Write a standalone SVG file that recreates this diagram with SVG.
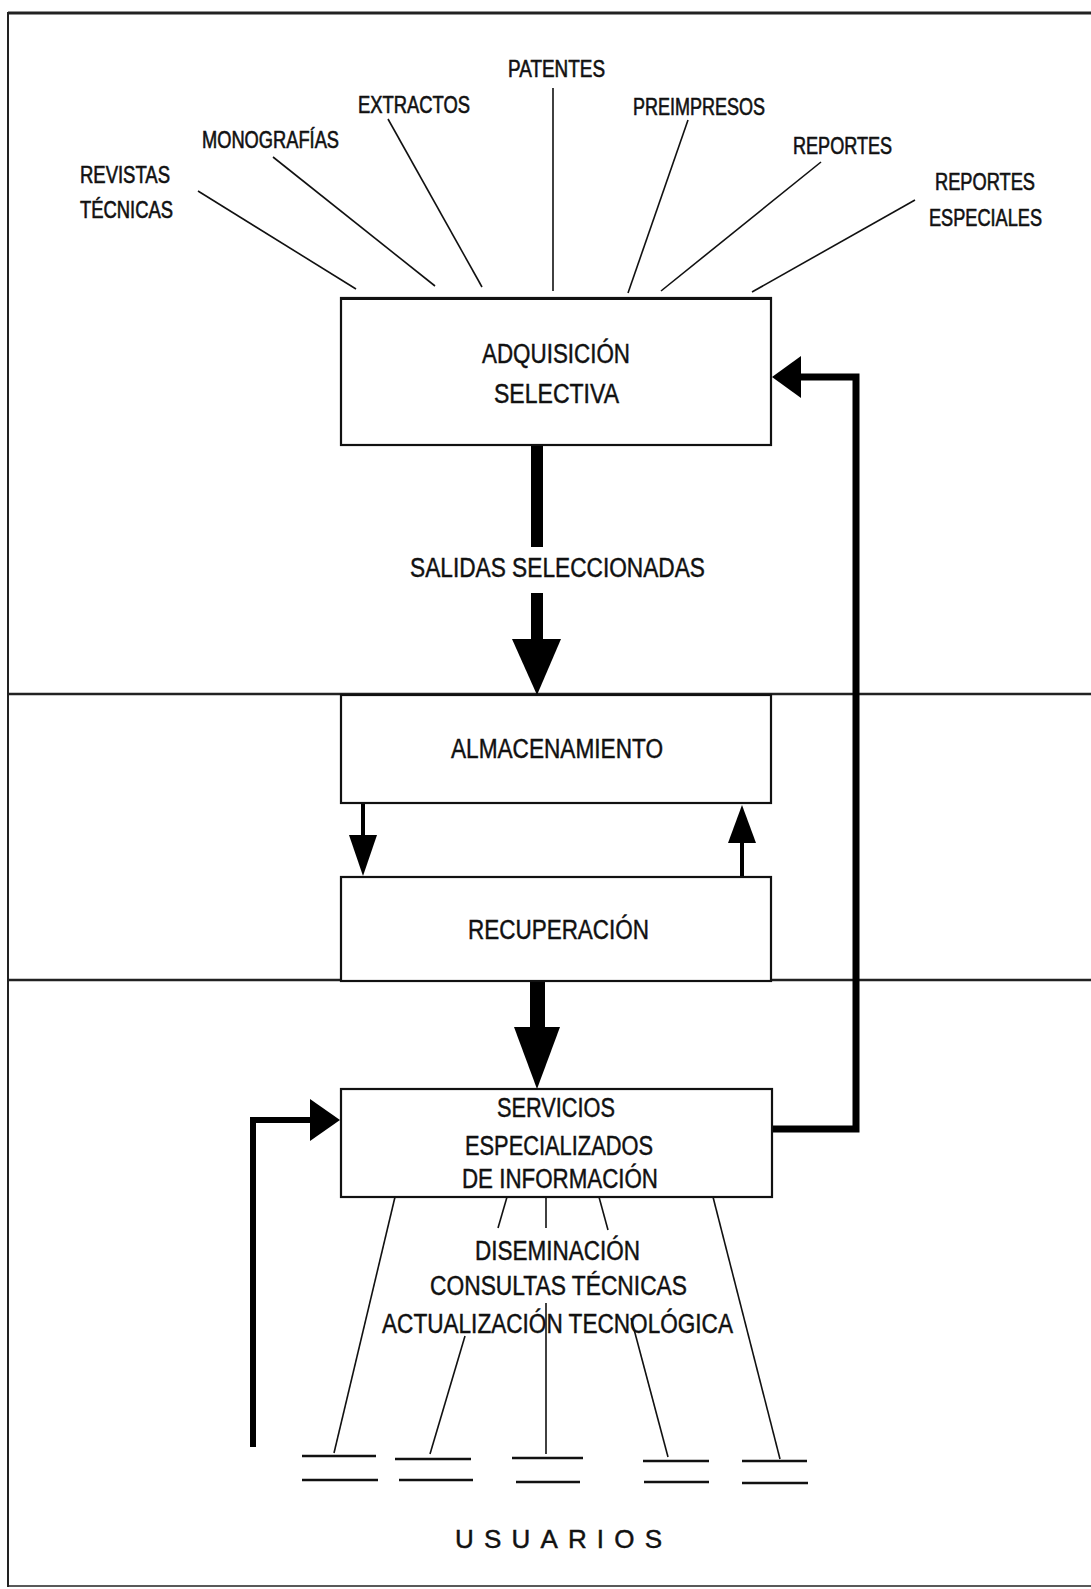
<svg xmlns="http://www.w3.org/2000/svg" width="1091" height="1589" viewBox="0 0 1091 1589">
<style>
text{font-family:"Liberation Sans","Arial",sans-serif;fill:#111;stroke:#111;stroke-width:0.45;}
.lbl{font-size:23px;stroke-width:0.6;}
.box{fill:#fff;stroke:#111;stroke-width:2.2;}
.bt{font-size:27px;}
.thin{stroke:#111;stroke-width:1.6;fill:none;}
.frame{stroke:#222;fill:none;}
.thick{stroke:#000;fill:none;stroke-linejoin:miter;}
.head{fill:#000;}
.bar{stroke:#111;stroke-width:2.5;}
</style>
<rect x="0" y="0" width="1091" height="1589" fill="#fff"/>
<g id="frame">
<line class="frame" x1="8" y1="13" x2="1091" y2="13" stroke-width="3"/>
<line class="frame" x1="8" y1="12" x2="8" y2="1587" stroke-width="2" stroke="#444"/>
<line class="frame" x1="8" y1="694" x2="1091" y2="694" stroke-width="2.5"/>
<line class="frame" x1="8" y1="980" x2="1091" y2="980" stroke-width="2.5"/>
<line class="frame" x1="8" y1="1586" x2="1091" y2="1586" stroke-width="1.5" stroke="#999"/>
</g>
<g id="connectors">
<line class="thin" x1="198" y1="191" x2="356" y2="289"/>
<line class="thin" x1="273" y1="157" x2="435" y2="286"/>
<line class="thin" x1="388" y1="119" x2="482" y2="287"/>
<line class="thin" x1="553" y1="88" x2="553" y2="291"/>
<line class="thin" x1="688" y1="120" x2="628" y2="293"/>
<line class="thin" x1="821" y1="162" x2="661" y2="291"/>
<line class="thin" x1="915" y1="200" x2="752" y2="292"/>
<rect class="head" x="531" y="445" width="12" height="102"/>
<rect class="head" x="531" y="593" width="12" height="47"/>
<polygon class="head" points="512,639 561,639 537,695"/>
<line class="thick" x1="363" y1="803" x2="363" y2="837" stroke-width="4"/>
<polygon class="head" points="349,835 377,835 363,876"/>
<line class="thick" x1="742" y1="877" x2="742" y2="841" stroke-width="4"/>
<polygon class="head" points="728,843 756,843 742,805"/>
<rect class="head" x="530" y="981" width="15" height="47"/>
<polygon class="head" points="514,1027 560,1027 537,1089"/>
<polyline class="thick" points="772,1129 856,1129 856,377 799,377" stroke-width="7"/>
<polygon class="head" points="801,356 801,398 772,377"/>
<polyline class="thick" points="253,1447 253,1120 312,1120" stroke-width="6"/>
<polygon class="head" points="310,1099 310,1141 340,1120"/>
<line class="thin" x1="395" y1="1197" x2="334" y2="1453"/>
<line class="thin" x1="507" y1="1197" x2="498" y2="1228"/>
<line class="thin" x1="465" y1="1336" x2="430" y2="1454"/>
<line class="thin" x1="546" y1="1197" x2="546" y2="1228"/>
<line class="thin" x1="546" y1="1303" x2="546" y2="1454"/>
<line class="thin" x1="599" y1="1197" x2="608" y2="1230"/>
<line class="thin" x1="631" y1="1318" x2="668" y2="1457"/>
<line class="thin" x1="713" y1="1197" x2="780" y2="1459"/>
</g>
<g id="fuentes">
<text class="lbl" x="508" y="77" textLength="97" lengthAdjust="spacingAndGlyphs">PATENTES</text>
<text class="lbl" x="358" y="113" textLength="112" lengthAdjust="spacingAndGlyphs">EXTRACTOS</text>
<text class="lbl" x="202" y="148" textLength="137" lengthAdjust="spacingAndGlyphs">MONOGRAFÍAS</text>
<text class="lbl" x="80" y="183" textLength="90" lengthAdjust="spacingAndGlyphs">REVISTAS</text>
<text class="lbl" x="80" y="218" textLength="93" lengthAdjust="spacingAndGlyphs">TÉCNICAS</text>
<text class="lbl" x="633" y="115" textLength="132" lengthAdjust="spacingAndGlyphs">PREIMPRESOS</text>
<text class="lbl" x="793" y="154" textLength="99" lengthAdjust="spacingAndGlyphs">REPORTES</text>
<text class="lbl" x="935" y="190" textLength="100" lengthAdjust="spacingAndGlyphs">REPORTES</text>
<text class="lbl" x="929" y="226" textLength="113" lengthAdjust="spacingAndGlyphs">ESPECIALES</text>
</g>
<g id="adquisicion">
<rect class="box" x="341" y="298" width="430" height="147"/>
<line x1="341" y1="298.5" x2="771" y2="298.5" stroke="#111" stroke-width="3"/>
<text class="bt" x="482" y="363" textLength="148" lengthAdjust="spacingAndGlyphs">ADQUISICIÓN</text>
<text class="bt" x="494" y="403" textLength="125" lengthAdjust="spacingAndGlyphs">SELECTIVA</text>
</g>
<g id="salidas">
<text class="bt" x="410" y="577" textLength="295" lengthAdjust="spacingAndGlyphs">SALIDAS SELECCIONADAS</text>
</g>
<g id="almacenamiento">
<rect class="box" x="341" y="695" width="430" height="108"/>
<text class="bt" x="451" y="758" textLength="212" lengthAdjust="spacingAndGlyphs">ALMACENAMIENTO</text>
</g>
<g id="recuperacion">
<rect class="box" x="341" y="877" width="430" height="104"/>
<text class="bt" x="468" y="939" textLength="181" lengthAdjust="spacingAndGlyphs">RECUPERACIÓN</text>
</g>
<g id="servicios">
<rect class="box" x="341" y="1089" width="431" height="108"/>
<text class="bt" x="497" y="1117" textLength="118" lengthAdjust="spacingAndGlyphs">SERVICIOS</text>
<text class="bt" x="465" y="1155" textLength="188" lengthAdjust="spacingAndGlyphs">ESPECIALIZADOS</text>
<text class="bt" x="462" y="1188" textLength="196" lengthAdjust="spacingAndGlyphs">DE INFORMACIÓN</text>
</g>
<g id="tipos">
<text class="bt" x="475" y="1260" textLength="165" lengthAdjust="spacingAndGlyphs">DISEMINACIÓN</text>
<text class="bt" x="430" y="1295" textLength="257" lengthAdjust="spacingAndGlyphs">CONSULTAS TÉCNICAS</text>
<text class="bt" x="382" y="1333" textLength="351" lengthAdjust="spacingAndGlyphs">ACTUALIZACIÓN TECNOLÓGICA</text>
</g>
<g id="usuarios">
<line class="bar" x1="302" y1="1456" x2="376" y2="1456" stroke="#777" stroke-width="2"/>
<line class="bar" x1="302" y1="1480" x2="378" y2="1480"/>
<line class="bar" x1="395" y1="1459" x2="471" y2="1459" stroke-width="4"/>
<line class="bar" x1="399" y1="1480" x2="473" y2="1480"/>
<line class="bar" x1="512" y1="1458" x2="583" y2="1458"/>
<line class="bar" x1="516" y1="1482" x2="580" y2="1482" stroke="#555"/>
<line class="bar" x1="643" y1="1461" x2="709" y2="1461"/>
<line class="bar" x1="644" y1="1482" x2="709" y2="1482" stroke="#444"/>
<line class="bar" x1="742" y1="1461" x2="807" y2="1461" stroke-width="2"/>
<line class="bar" x1="742" y1="1483" x2="808" y2="1483" stroke="#444"/>
<text x="455" y="1548" font-size="26" stroke-width="0.2" textLength="207" lengthAdjust="spacing">USUARIOS</text>
</g>
</svg>
